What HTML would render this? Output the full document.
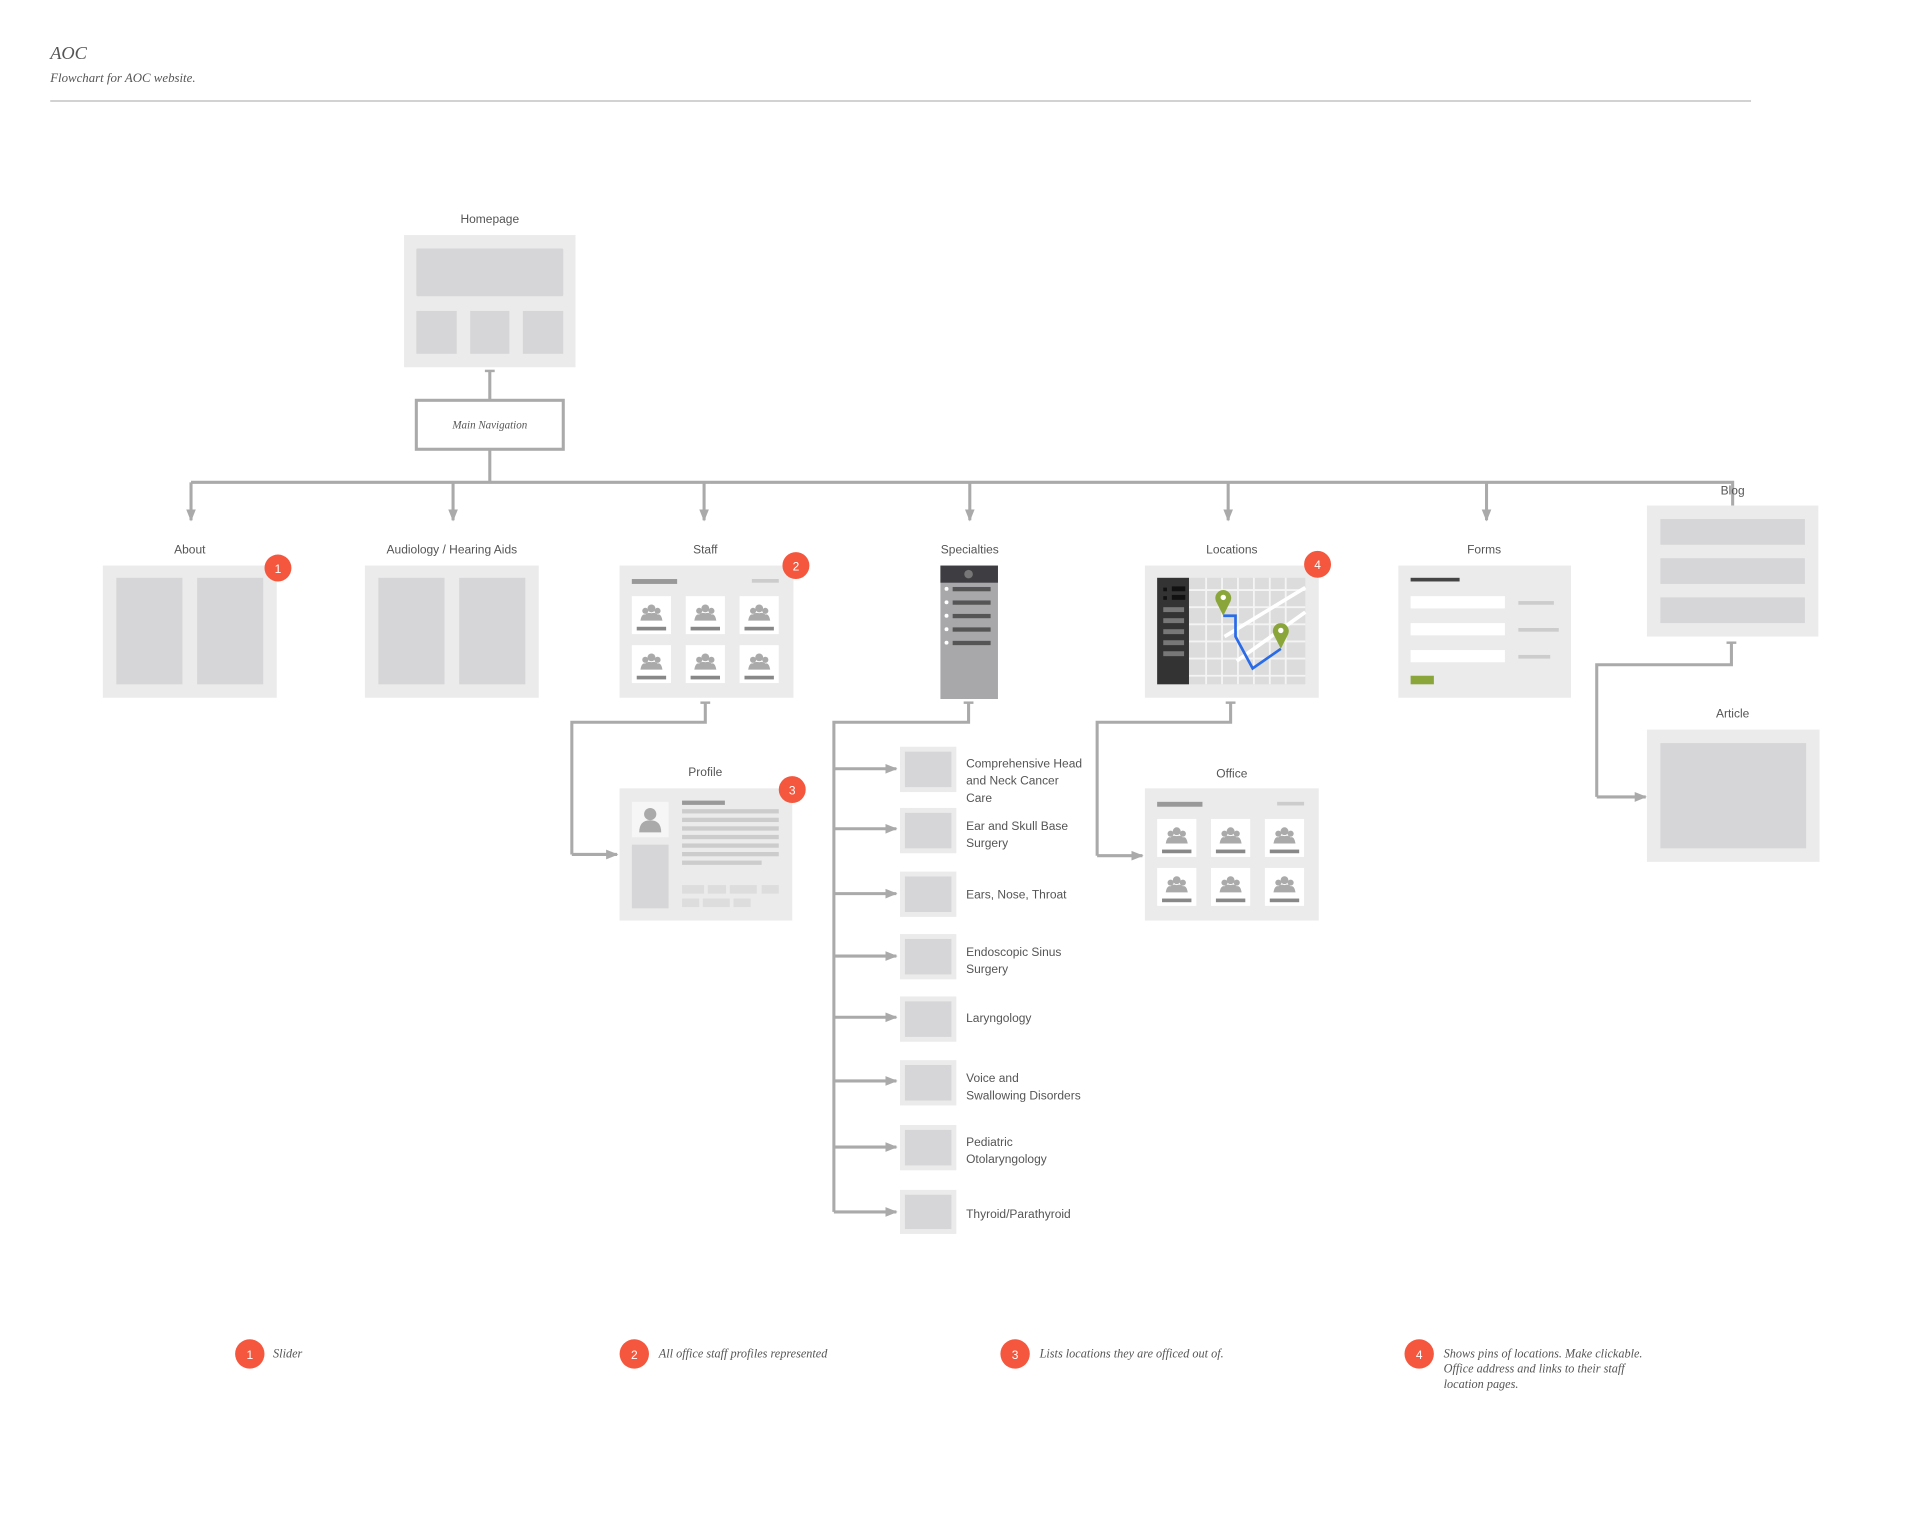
<!DOCTYPE html>
<html><head><meta charset="utf-8"><style>
html,body{margin:0;padding:0;background:#fff;}
svg{display:block;}
.s{font-family:"Liberation Sans",sans-serif;fill:#555;font-size:9.8px;}
.i{font-family:"Liberation Serif",serif;font-style:italic;fill:#555;}
.c{stroke:#aaa;stroke-width:2.5;fill:none;}
</style></head><body>
<svg width="1920" height="1540" viewBox="0 0 1568 1258" preserveAspectRatio="none" xmlns="http://www.w3.org/2000/svg">
<defs>
<marker id="a" viewBox="0 0 10 10" refX="9" refY="5" markerWidth="4" markerHeight="4" orient="auto"><path d="M0,1 L10,5 L0,9 Z" fill="#aaa"/></marker>
<g id="p"><rect x="0" y="0" width="32" height="31" fill="#fff"/>
<circle cx="16" cy="10" r="3.2" fill="#aaa"/><circle cx="11" cy="12" r="2.5" fill="#aaa"/><circle cx="21" cy="12" r="2.5" fill="#aaa"/>
<path d="M7,20 Q8,14 11,15 Q13,13 16,14 Q19,13 21,15 Q24,14 25,20 Z" fill="#aaa"/>
<rect x="4" y="25" width="24" height="3" fill="#888"/></g>
<g id="grid"><rect width="142" height="108" fill="#ebebeb"/>
<rect x="10" y="11" width="37" height="4" fill="#999"/><rect x="108" y="11" width="22" height="3" fill="#ccc"/>
<use href="#p" x="10" y="25"/><use href="#p" x="54" y="25"/><use href="#p" x="98" y="25"/>
<use href="#p" x="10" y="65"/><use href="#p" x="54" y="65"/><use href="#p" x="98" y="65"/></g>
<g id="b"><circle r="11" fill="#f4573e"/></g>
</defs>

<text x="41" y="48" class="i" font-size="15">AOC</text>
<text x="41" y="67" class="i" font-size="10.5" fill="#777">Flowchart for AOC website.</text>
<line x1="41" y1="82.5" x2="1430" y2="82.5" stroke="#ccc" stroke-width="1.5"/>

<text x="400" y="182" class="s" text-anchor="middle">Homepage</text>
<rect x="330" y="192" width="140" height="108" fill="#ebebeb"/>
<rect x="340" y="203" width="120" height="39" fill="#d6d6d8" rx="1"/>
<rect x="340" y="254" width="33" height="35" fill="#d6d6d8"/>
<rect x="384" y="254" width="32" height="35" fill="#d6d6d8"/>
<rect x="427" y="254" width="33" height="35" fill="#d6d6d8"/>
<path class="c" d="M400,303 V327"/><path d="M396,303 H404" stroke="#aaa" stroke-width="2"/>
<rect x="340" y="327" width="120" height="40" fill="#fff" stroke="#aaa" stroke-width="2.5"/>
<text x="400" y="350" class="i" font-size="9" text-anchor="middle">Main Navigation</text>

<path class="c" d="M400,367 V394 M156,394 H1415 V413"/>
<path class="c" marker-end="url(#a)" d="M156,394 V425"/>
<path class="c" marker-end="url(#a)" d="M370,394 V425"/>
<path class="c" marker-end="url(#a)" d="M575,394 V425"/>
<path class="c" marker-end="url(#a)" d="M792,394 V425"/>
<path class="c" marker-end="url(#a)" d="M1003,394 V425"/>
<path class="c" marker-end="url(#a)" d="M1214,394 V425"/>

<text x="155" y="452" class="s" text-anchor="middle">About</text>
<text x="369" y="452" class="s" text-anchor="middle">Audiology / Hearing Aids</text>
<text x="576" y="452" class="s" text-anchor="middle">Staff</text>
<text x="792" y="452" class="s" text-anchor="middle">Specialties</text>
<text x="1006" y="452" class="s" text-anchor="middle">Locations</text>
<text x="1212" y="452" class="s" text-anchor="middle">Forms</text>
<text x="1415" y="404" class="s" text-anchor="middle">Blog</text>

<rect x="84" y="462" width="142" height="108" fill="#ebebeb"/>
<rect x="95" y="472" width="54" height="87" fill="#d6d6d8"/><rect x="161" y="472" width="54" height="87" fill="#d6d6d8"/>
<use href="#b" x="227" y="464"/><text x="227" y="468" class="s" font-size="9" text-anchor="middle" style="fill:#fff">1</text>
<rect x="298" y="462" width="142" height="108" fill="#ebebeb"/>
<rect x="309" y="472" width="54" height="87" fill="#d6d6d8"/><rect x="375" y="472" width="54" height="87" fill="#d6d6d8"/>
<use href="#grid" x="506" y="462"/>
<use href="#b" x="650" y="462"/><text x="650" y="466" class="s" font-size="9" text-anchor="middle" style="fill:#fff">2</text>
<rect x="768" y="462" width="47" height="109" fill="#a8a8ab"/>
<rect x="768" y="462" width="47" height="14" fill="#3e3e42"/><circle cx="791" cy="469" r="3.5" fill="#777"/>
<g fill="#fff"><circle cx="773" cy="481" r="1.6"/><circle cx="773" cy="492" r="1.6"/><circle cx="773" cy="503" r="1.6"/><circle cx="773" cy="514" r="1.6"/><circle cx="773" cy="525" r="1.6"/></g>
<g fill="#555"><rect x="778" y="479.5" width="31" height="3.5"/><rect x="778" y="490.5" width="31" height="3.5"/><rect x="778" y="501.5" width="31" height="3.5"/><rect x="778" y="512.5" width="31" height="3.5"/><rect x="778" y="523.5" width="31" height="3.5"/></g>
<rect x="935" y="462" width="142" height="108" fill="#ebebeb"/>
<rect x="945" y="472" width="121" height="87" fill="#dcdcdc"/>
<g stroke="#f4f4f4" stroke-width="1.5">
<path d="M971,482 H1066 M971,496 H1066 M971,510 H1066 M971,524 H1066 M971,538 H1066 M971,552 H1066"/>
<path d="M985,472 V559 M998,472 V559 M1011,472 V559 M1024,472 V559 M1037,472 V559 M1050,472 V559"/>
<path d="M1000,520 L1066,480 M1010,540 L1066,500" stroke-width="3" stroke="#fff"/>
</g>
<rect x="945" y="472" width="26" height="87" fill="#333"/>
<g fill="#111"><rect x="957" y="479" width="11" height="4"/><rect x="957" y="486" width="11" height="4"/><rect x="950" y="480" width="3" height="3"/><rect x="950" y="487" width="3" height="3"/></g>
<g fill="#777"><rect x="950" y="496" width="17" height="4"/><rect x="950" y="505" width="17" height="4"/><rect x="950" y="514" width="17" height="4"/><rect x="950" y="523" width="17" height="4"/><rect x="950" y="532" width="17" height="4"/></g>
<path d="M999,503 H1009 V520 L1023,546 L1046,530" stroke="#2a6be8" stroke-width="2.2" fill="none"/>
<path d="M999,503 L993,491 A6.5,6.5 0 1 1 1005,491 Z" fill="#8aa63a"/><circle cx="999" cy="488" r="2.2" fill="#fff"/>
<path d="M1046,530 L1040,518 A6.5,6.5 0 1 1 1052,518 Z" fill="#8aa63a"/><circle cx="1046" cy="515" r="2.2" fill="#fff"/>
<use href="#b" x="1076" y="461"/><text x="1076" y="465" class="s" font-size="9" text-anchor="middle" style="fill:#fff">4</text>
<rect x="1142" y="462" width="141" height="108" fill="#ebebeb"/>
<rect x="1152" y="472" width="40" height="3" fill="#444"/>
<g fill="#fff"><rect x="1152" y="487" width="77" height="10"/><rect x="1152" y="509" width="77" height="10"/><rect x="1152" y="531" width="77" height="10"/></g>
<g fill="#ccc"><rect x="1240" y="491" width="29" height="3"/><rect x="1240" y="513" width="33" height="3"/><rect x="1240" y="535" width="26" height="3"/></g>
<rect x="1152" y="552" width="19" height="7" fill="#8aa63a"/>
<rect x="1345" y="413" width="140" height="107" fill="#ebebeb"/>
<rect x="1356" y="424" width="118" height="21" fill="#d6d6d8"/><rect x="1356" y="456" width="118" height="21" fill="#d6d6d8"/><rect x="1356" y="488" width="118" height="21" fill="#d6d6d8"/>
<path class="c" d="M1414,525 V543 H1304 V651" /><path class="c" marker-end="url(#a)" d="M1304,651 H1344"/>
<path d="M1410,525 H1418" stroke="#aaa" stroke-width="2"/>
<text x="1415" y="586" class="s" text-anchor="middle">Article</text>
<rect x="1345" y="596" width="141" height="108" fill="#ebebeb"/>
<rect x="1356" y="607" width="119" height="86" fill="#d6d6d8"/>

<path class="c" d="M576,574 V590 H467 V698"/><path class="c" marker-end="url(#a)" d="M467,698 H504"/>
<path d="M572,574 H580" stroke="#aaa" stroke-width="2"/>
<text x="576" y="634" class="s" text-anchor="middle">Profile</text>
<rect x="506" y="644" width="141" height="108" fill="#ebebeb"/>
<rect x="516" y="655" width="30" height="29" fill="#f6f6f6"/>
<circle cx="531" cy="665" r="5" fill="#aaa"/><path d="M522,680 Q522,670 531,670 Q540,670 540,680 Z" fill="#aaa"/>
<rect x="516" y="690" width="30" height="52" fill="#d6d6d8"/>
<rect x="557" y="654" width="35" height="3.5" fill="#999"/>
<g fill="#ccc"><rect x="557" y="661" width="79" height="3.5"/><rect x="557" y="668" width="79" height="3.5"/><rect x="557" y="675" width="79" height="3.5"/><rect x="557" y="682" width="79" height="3.5"/><rect x="557" y="689" width="79" height="3.5"/><rect x="557" y="696" width="79" height="3.5"/><rect x="557" y="703" width="65" height="3.5"/></g>
<g fill="#ddd"><rect x="557" y="723" width="18" height="7"/><rect x="578" y="723" width="15" height="7"/><rect x="596" y="723" width="22" height="7"/><rect x="622" y="723" width="14" height="7"/><rect x="557" y="734" width="14" height="7"/><rect x="574" y="734" width="22" height="7"/><rect x="599" y="734" width="14" height="7"/></g>
<use href="#b" x="647" y="645"/><text x="647" y="649" class="s" font-size="9" text-anchor="middle" style="fill:#fff">3</text>

<path class="c" d="M791,574 V590 H681 V990"/><path d="M787,574 H795" stroke="#aaa" stroke-width="2"/>
<g class="c">
<path d="M681,628 H732" marker-end="url(#a)"/><path d="M681,677 H732" marker-end="url(#a)"/><path d="M681,730 H732" marker-end="url(#a)"/><path d="M681,781 H732" marker-end="url(#a)"/>
<path d="M681,831 H732" marker-end="url(#a)"/><path d="M681,883 H732" marker-end="url(#a)"/><path d="M681,937 H732" marker-end="url(#a)"/><path d="M681,990 H732" marker-end="url(#a)"/>
</g>
<g fill="#ebebeb"><rect x="735" y="610" width="46" height="37"/><rect x="735" y="660" width="46" height="37"/><rect x="735" y="712" width="46" height="37"/><rect x="735" y="763" width="46" height="37"/><rect x="735" y="814" width="46" height="37"/><rect x="735" y="866" width="46" height="37"/><rect x="735" y="919" width="46" height="37"/><rect x="735" y="972" width="46" height="36"/></g>
<g fill="#d6d6d8"><rect x="739" y="614" width="38" height="29"/><rect x="739" y="664" width="38" height="29"/><rect x="739" y="716" width="38" height="29"/><rect x="739" y="767" width="38" height="29"/><rect x="739" y="818" width="38" height="29"/><rect x="739" y="870" width="38" height="29"/><rect x="739" y="923" width="38" height="29"/><rect x="739" y="976" width="38" height="28"/></g>
<g class="s" font-size="9.2">
<text x="789" y="627">Comprehensive Head</text><text x="789" y="641">and Neck Cancer</text><text x="789" y="655">Care</text>
<text x="789" y="678">Ear and Skull Base</text><text x="789" y="692">Surgery</text>
<text x="789" y="734">Ears, Nose, Throat</text>
<text x="789" y="781">Endoscopic Sinus</text><text x="789" y="795">Surgery</text>
<text x="789" y="835">Laryngology</text>
<text x="789" y="884">Voice and</text><text x="789" y="898">Swallowing Disorders</text>
<text x="789" y="936">Pediatric</text><text x="789" y="950">Otolaryngology</text>
<text x="789" y="995">Thyroid/Parathyroid</text>
</g>

<path class="c" d="M1005,574 V590 H896 V699"/><path class="c" marker-end="url(#a)" d="M896,699 H933"/>
<path d="M1001,574 H1009" stroke="#aaa" stroke-width="2"/>
<text x="1006" y="635" class="s" text-anchor="middle">Office</text>
<use href="#grid" x="935" y="644"/>

<circle cx="204" cy="1106" r="12" fill="#f4573e"/><text x="204" y="1110" class="s" font-size="9" text-anchor="middle" style="fill:#fff">1</text>
<text x="223" y="1109" class="i" font-size="10">Slider</text>
<circle cx="518" cy="1106" r="12" fill="#f4573e"/><text x="518" y="1110" class="s" font-size="9" text-anchor="middle" style="fill:#fff">2</text>
<text x="538" y="1109" class="i" font-size="10">All office staff profiles represented</text>
<circle cx="829" cy="1106" r="12" fill="#f4573e"/><text x="829" y="1110" class="s" font-size="9" text-anchor="middle" style="fill:#fff">3</text>
<text x="849" y="1109" class="i" font-size="10">Lists locations they are officed out of.</text>
<circle cx="1159" cy="1106" r="12" fill="#f4573e"/><text x="1159" y="1110" class="s" font-size="9" text-anchor="middle" style="fill:#fff">4</text>
<text x="1179" y="1109" class="i" font-size="10">Shows pins of locations. Make clickable.</text>
<text x="1179" y="1121" class="i" font-size="10">Office address and links to their staff</text>
<text x="1179" y="1134" class="i" font-size="10">location pages.</text>
</svg>
</body></html>
